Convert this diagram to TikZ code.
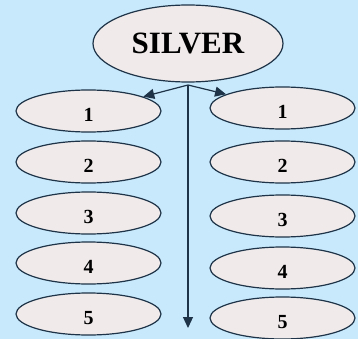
\documentclass[tikz,border=0pt]{standalone}
\usepackage{fontspec}
\setmainfont{Liberation Serif}
\usetikzlibrary{shapes.geometric,arrows.meta}
\definecolor{bg}{HTML}{C8E9FB}
\definecolor{ell}{HTML}{F0EAEA}
\definecolor{ln}{HTML}{1E3347}
\tikzset{
  oval/.style={ellipse, draw=ln, line width=1.2pt, fill=ell, minimum width=145pt, minimum height=42pt, inner sep=0pt, text depth=0pt, font=\bfseries\fontsize{20}{20}\selectfont},
  top/.style={ellipse, draw=ln, line width=1.2pt, fill=ell, minimum width=190pt, minimum height=77pt, inner sep=0pt, font=\bfseries\fontsize{31}{31}\selectfont},
  lbl/.style={font=\bfseries\fontsize{20}{20}\selectfont, inner sep=0pt},
  conn/.style={draw=ln, line width=1.2pt, -{Triangle[length=11pt,width=10pt]}}
}
\begin{document}
\begin{tikzpicture}[x=1pt,y=-1pt]
\fill[bg] (0,0) rectangle (358,339);
\useasboundingbox (0,0) rectangle (358,339);
\node[top] (s) at (188,43.5) {SILVER};
\node[oval] (l1) at (88.5,111) {};
\node[oval] (l2) at (88.5,162) {};
\node[oval] (l3) at (88.5,213) {};
\node[oval] (l4) at (88.5,263) {};
\node[oval] (l5) at (88.5,314) {};
\node[oval] (r1) at (282.5,108) {};
\node[oval] (r2) at (282.5,162) {};
\node[oval] (r3) at (282.5,216) {};
\node[oval] (r4) at (282.5,268) {};
\node[oval] (r5) at (282.5,318) {};
\foreach \n/\t in {l1/1,l2/2,l3/3,l4/4,l5/5,r1/1,r2/2,r3/3,r4/4,r5/5}
  \node[lbl] (t\n) at ([yshift=-4pt]\n.center) {\t};
\coordinate (o) at (188,85);
\coordinate (e) at (188,328);
\draw[conn] (o) -- (l1);
\draw[conn] (o) -- (r1);
\draw[conn] (o) -- (e);
\end{tikzpicture}
\end{document}
